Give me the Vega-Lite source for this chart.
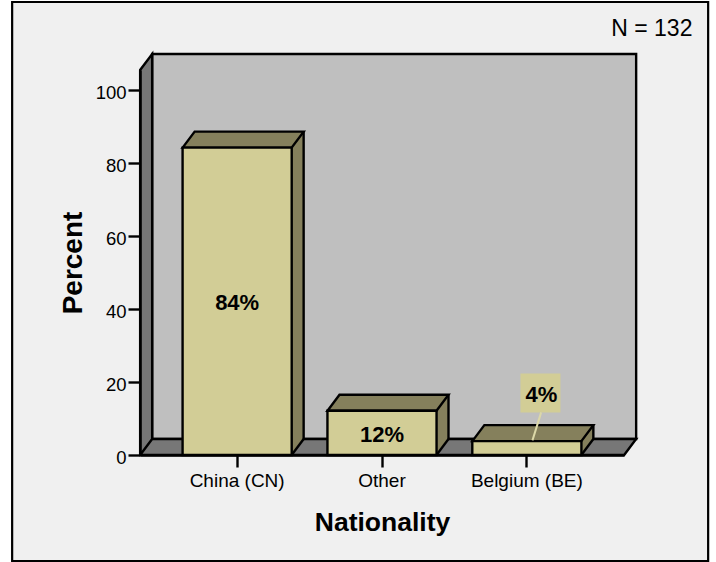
{
"$schema":"https://vega.github.io/schema/vega-lite/v6.json",
"width":484,"height":385,
"autosize":"none",
"padding":{"left":140,"top":70,"right":92,"bottom":107},
"background":"#ffffff",
"config":{"view":{"stroke":null},"font":"Liberation Sans"},
"data":{"values":[
{"Nationality":"China (CN)","Percent":84.1,"Label":"84%"},
{"Nationality":"Other","Percent":12.1,"Label":"12%"},
{"Nationality":"Belgium (BE)","Percent":3.8,"Label":"4%"}
]},
"resolve":{"scale":{"y":"independent"}},
"layer":[
{"encoding":{
 "x":{"field":"Nationality","type":"nominal","sort":null,
  "scale":{"domain":["China (CN)","Other","Belgium (BE)"],"paddingInner":0.2467,"paddingOuter":0.294},
  "axis":{"title":"Nationality","labelAngle":0,"labelFontSize":19,"labelColor":"#000000","labelPadding":4,"tickSize":12,"tickWidth":2.4,"tickColor":"#000000","domainColor":"#000000","domainWidth":2.4,"titleFontSize":26.5,"titleFontWeight":"bold","titleColor":"#000000","titlePadding":19,"zindex":1}},
 "y":{"field":"Percent","type":"quantitative",
  "scale":{"domain":[0,105.34],"nice":false},
  "axis":{"title":"Percent","values":[0,20,40,60,80,100],"grid":false,"labelFontSize":18.5,"labelColor":"#000000","labelPadding":2,"labelOffset":2.5,"tickSize":12,"tickWidth":2.4,"tickColor":"#000000","domainColor":"#000000","domainWidth":2.4,"titleFontSize":28,"titleFontWeight":"bold","titleColor":"#000000","titlePadding":8,"zindex":1}}
 },
 "layer":[
 {"transform":[{"filter":"datum.Nationality == 'China (CN)'"}],
  "mark":{"type":"point","shape":"M-225,-453 L471,-453 L471,106 L-225,106 Z","size":4,"filled":true,"fill":"#f0f0f0","stroke":"#000000","strokeWidth":2.2,"opacity":1},
  "encoding":{"y":{"datum":0,"type":"quantitative"}}},
 {"transform":[{"filter":"datum.Nationality == 'China (CN)'"}],
  "mark":{"type":"point","shape":"M-85,-401 L399,-401 L399,-16 L-85,-16 Z","size":4,"filled":true,"fill":"#bfbfbf","stroke":"#000000","strokeWidth":2.4,"opacity":1},
  "encoding":{"y":{"datum":0,"type":"quantitative"}}},
 {"transform":[{"filter":"datum.Nationality == 'China (CN)'"}],
  "mark":{"type":"point","shape":"M-97,0 L-97,-385 L-85,-401 L-85,-16 L399,-16 L387,0 Z M-97,0 L-85,-16","size":4,"filled":true,"fill":"#777777","stroke":"#000000","strokeWidth":2.4,"opacity":1},
  "encoding":{"y":{"datum":0,"type":"quantitative"}}},
 {"mark":{"type":"bar","fill":"#85805c","xOffset":12,"x2Offset":12,"yOffset":-16,"y2Offset":-16}},
 {"mark":{"type":"point","shape":"M54.5,0 L66.5,-17 L54.5,-17 Z","size":4,"filled":true,"fill":"#85805c","strokeWidth":0,"opacity":1},
  "encoding":{"y":{"datum":0,"type":"quantitative"}}},
 {"mark":{"type":"point","shape":"M54.5,0 L66.5,-16","size":4,"filled":false,"fill":"transparent","stroke":"#000000","strokeWidth":2.4,"opacity":1},
  "encoding":{"y":{"datum":0,"type":"quantitative"}}},
 {"mark":{"type":"rule","stroke":"#000000","strokeWidth":2.4,"xOffset":66.5,"yOffset":-16,"y2Offset":-16},
  "encoding":{"y2":{"datum":0}}},
 {"mark":{"type":"point","shape":"M-54.5,0 L-42.5,-16 L66.5,-16 L54.5,0 Z","size":4,"filled":true,"fill":"#85805c","stroke":"#000000","strokeWidth":2.4,"opacity":1}},
 {"mark":{"type":"bar","fill":"#d2cd96","stroke":"#000000","strokeWidth":2.4}},
 {"transform":[{"filter":"datum.Nationality == 'Belgium (BE)'"}],
  "mark":{"type":"point","shape":"M-6.4,-67.7 L33.6,-67.7 L33.6,-28.7 L-6.4,-28.7 Z","size":4,"filled":true,"fill":"#d2cd96","strokeWidth":0,"opacity":1}},
 {"transform":[{"filter":"datum.Nationality == 'Belgium (BE)'"}],
  "mark":{"type":"point","shape":"M14.3,-28.7 L5.6,-0.7","size":4,"filled":false,"fill":"transparent","stroke":"#dcd8a8","strokeWidth":2,"opacity":1}},
 {"transform":[{"filter":"datum.Nationality == 'Belgium (BE)'"}],
  "mark":{"type":"text","font":"Liberation Sans","fontWeight":"bold","fontSize":22,"color":"#000000","dx":14.6,"dy":-46.5,"baseline":"middle"},
  "encoding":{"text":{"field":"Label"}}},
 {"transform":[{"filter":"datum.Nationality == 'Belgium (BE)'"}],
  "mark":{"type":"text","font":"Liberation Sans","fontWeight":"normal","fontSize":23,"color":"#000000","align":"right","baseline":"middle","dx":165.6,"dy":-426},
  "encoding":{"y":{"datum":0,"type":"quantitative"},"text":{"value":"N = 132"}}}
 ]},
{"transform":[{"filter":"datum.Nationality != 'Belgium (BE)'"}],
 "mark":{"type":"text","font":"Liberation Sans","fontWeight":"bold","fontSize":22,"color":"#000000","dy":2,"baseline":"middle"},
 "encoding":{
  "x":{"field":"Nationality","type":"nominal","sort":null},
  "y":{"field":"Percent","type":"quantitative","scale":{"domain":[0,210.68],"nice":false},"axis":null},
  "text":{"field":"Label"}}}
]}
